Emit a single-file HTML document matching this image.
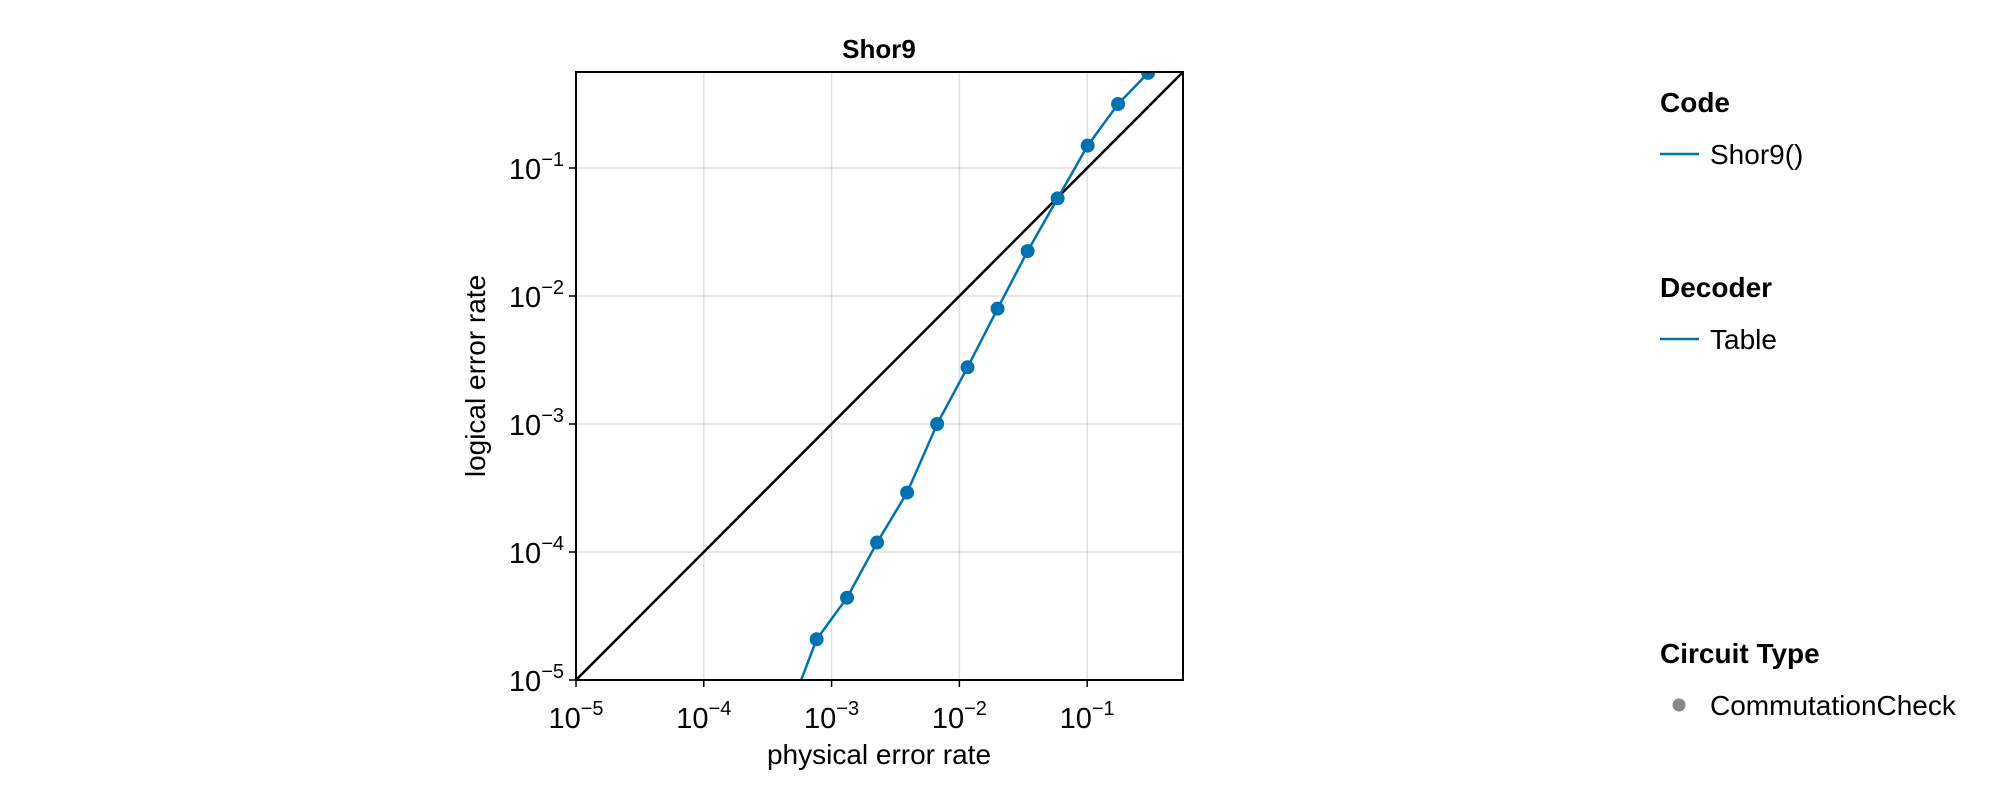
<!DOCTYPE html>
<html><head><meta charset="utf-8"><style>
body{margin:0;background:#fff;}
svg{display:block;font-family:"Liberation Sans",Arial,sans-serif;}
</style></head><body>
<svg id="chart" width="2000" height="800">
<text x="879" y="58" text-anchor="middle" font-size="26" font-weight="bold">Shor9</text>
<g id="grid"></g>
<g id="plot"></g>
<rect x="576" y="72" width="607" height="608" fill="none" stroke="#000" stroke-width="2"/>
<g id="ticks"></g>
<text x="879" y="764" text-anchor="middle" font-size="28">physical error rate</text>
<text transform="translate(485,376) rotate(-90)" text-anchor="middle" font-size="28">logical error rate</text>
<g>
<text x="1660" y="112" font-size="28" font-weight="bold">Code</text>
<line x1="1660" y1="154" x2="1699" y2="154" stroke="#0072b2" stroke-width="2.5"/>
<text x="1710" y="164" font-size="28">Shor9()</text>
<text x="1660" y="297" font-size="28" font-weight="bold">Decoder</text>
<line x1="1660" y1="339" x2="1699" y2="339" stroke="#0072b2" stroke-width="2.5"/>
<text x="1710" y="349" font-size="28">Table</text>
<text x="1660" y="663" font-size="28" font-weight="bold">Circuit Type</text>
<circle cx="1679" cy="705" r="6.5" fill="#888"/>
<text x="1710" y="715" font-size="28">CommutationCheck</text>
</g>
</svg>
<script>
const physLog=[-3.352,-3.117,-2.879,-2.644,-2.409,-2.174,-1.936,-1.701,-1.466,-1.231,-0.996,-0.758,-0.523];
const logiLog=[-5.30,-4.682,-4.357,-3.926,-3.536,-3.0,-2.557,-2.099,-1.649,-1.237,-0.825,-0.500,-0.257];
const tickExps=[-5,-4,-3,-2,-1];
const xMinL=-5,xMaxL=-0.25,yMinL=-5,yMaxL=-0.25;
const L=576,R=1183,T=72,B=680;
const NS='http://www.w3.org/2000/svg';
function sx(l){return L+(l-xMinL)/(xMaxL-xMinL)*(R-L);}
function sy(l){return B-(l-yMinL)/(yMaxL-yMinL)*(B-T);}
function mk(t,a,p){const e=document.createElementNS(NS,t);for(const k in a)e.setAttribute(k,a[k]);p.appendChild(e);return e;}
const grid=document.getElementById('grid'),plot=document.getElementById('plot'),ticks=document.getElementById('ticks');
const defs=mk('defs',{},document.getElementById('chart'));
const cp=mk('clipPath',{id:'clip'},defs);mk('rect',{x:L,y:T,width:R-L,height:B-T},cp);
plot.setAttribute('clip-path','url(#clip)');
tickExps.forEach(e=>{
  const x=sx(e),y=sy(e);
  const gx=mk('line',{x1:x,x2:x,y1:T,y2:B,stroke:'#000','stroke-opacity':0.12,'stroke-width':1.5},grid);
  
  const gy=mk('line',{x1:L,x2:R,y1:y,y2:y,stroke:'#000','stroke-opacity':0.12,'stroke-width':1.5},grid);
  
  const tx=mk('line',{x1:x,x2:x,y1:B,y2:B+7,stroke:'#000','stroke-width':1.5},ticks);
  
  const ty=mk('line',{x1:L-7,x2:L,y1:y,y2:y,stroke:'#000','stroke-width':1.5},ticks);
  
  const lx=mk('text',{x:x,y:B+48,'text-anchor':'middle','font-size':29},ticks);
  
  lx.innerHTML='10<tspan font-size="20" dy="-13">\u2212'+(-e)+'</tspan>';
  const ly=mk('text',{x:L-12,y:y+11,'text-anchor':'end','font-size':29},ticks);
  
  ly.innerHTML='10<tspan font-size="20" dy="-13">\u2212'+(-e)+'</tspan>';
});
const diag=mk('line',{x1:sx(-5),y1:sy(-5),x2:sx(-0.25),y2:sy(-0.25),stroke:'#000','stroke-width':2.5},plot);

const pts=physLog.map((v,i)=>sx(v)+','+sy(logiLog[i])).join(' ');
const pl=mk('polyline',{points:pts,fill:'none',stroke:'#0072b2','stroke-width':2.5},plot);

physLog.forEach((v,i)=>{
  const c=mk('circle',{cx:sx(v),cy:sy(logiLog[i]),r:7,fill:'#0072b2'},plot);
  
});
</script>
</body></html>
